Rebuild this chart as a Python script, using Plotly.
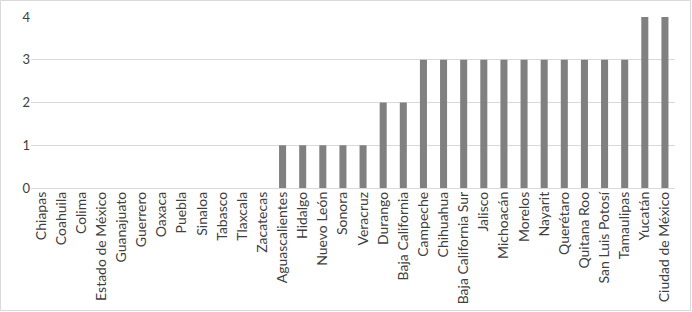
import plotly.graph_objects as go

states = ["Chiapas", "Coahuila", "Colima", "Estado de México", "Guanajuato", "Guerrero",
          "Oaxaca", "Puebla", "Sinaloa", "Tabasco", "Tlaxcala", "Zacatecas",
          "Aguascalientes", "Hidalgo", "Nuevo León", "Sonora", "Veracruz",
          "Durango", "Baja California", "Campeche", "Chihuahua", "Baja California Sur",
          "Jalisco", "Michoacán", "Morelos", "Nayarit", "Querétaro", "Quitana Roo",
          "San Luis Potosí", "Tamaulipas", "Yucatán", "Ciudad de México"]
values = [0, 0, 0, 0, 0, 0, 0, 0, 0, 0, 0, 0,
          1, 1, 1, 1, 1,
          2, 2,
          3, 3, 3, 3, 3, 3, 3, 3, 3, 3, 3,
          4, 4]
y_ticks = [0, 1, 2, 3, 4]

W, H = 692, 312
L, R, T, B = 31, 17, 17, 124
pw, ph = W - L - R, H - T - B

fig = go.Figure(go.Bar(x=states, y=values, marker=dict(color="#808080", line=dict(width=0))))

fig.add_shape(type="rect", xref="paper", yref="paper",
              x0=(0.5 - L) / pw, x1=(W - 1.5 - L) / pw,
              y0=-(H - 1.5 - T - ph) / ph, y1=1 + (T - 0.5) / ph,
              line=dict(color="#d9d9d9", width=1), layer="below")

fig.update_layout(
    width=W, height=H,
    margin=dict(l=L, r=R, t=T, b=B),
    plot_bgcolor="white", paper_bgcolor="white",
    bargap=0.65,
    showlegend=False,
    font=dict(family="Lato, Carlito, Calibri, sans-serif", size=12, color="#404040"),
    xaxis=dict(tickangle=-90, showgrid=False, showline=False, ticks="",
               tickfont=dict(size=14, color="#404040"), automargin=False),
    yaxis=dict(range=[0, 4], tickvals=y_ticks, showgrid=True, gridcolor="#d9d9d9",
               gridwidth=1, zeroline=True, zerolinecolor="#d9d9d9", zerolinewidth=1,
               showline=False, ticks="", tickfont=dict(size=13, color="#404040"),
               automargin=False),
)

fig.write_html("out.html", config={"displayModeBar": False},
               post_script="document.body.style.margin='0';document.body.style.overflow='hidden';")
